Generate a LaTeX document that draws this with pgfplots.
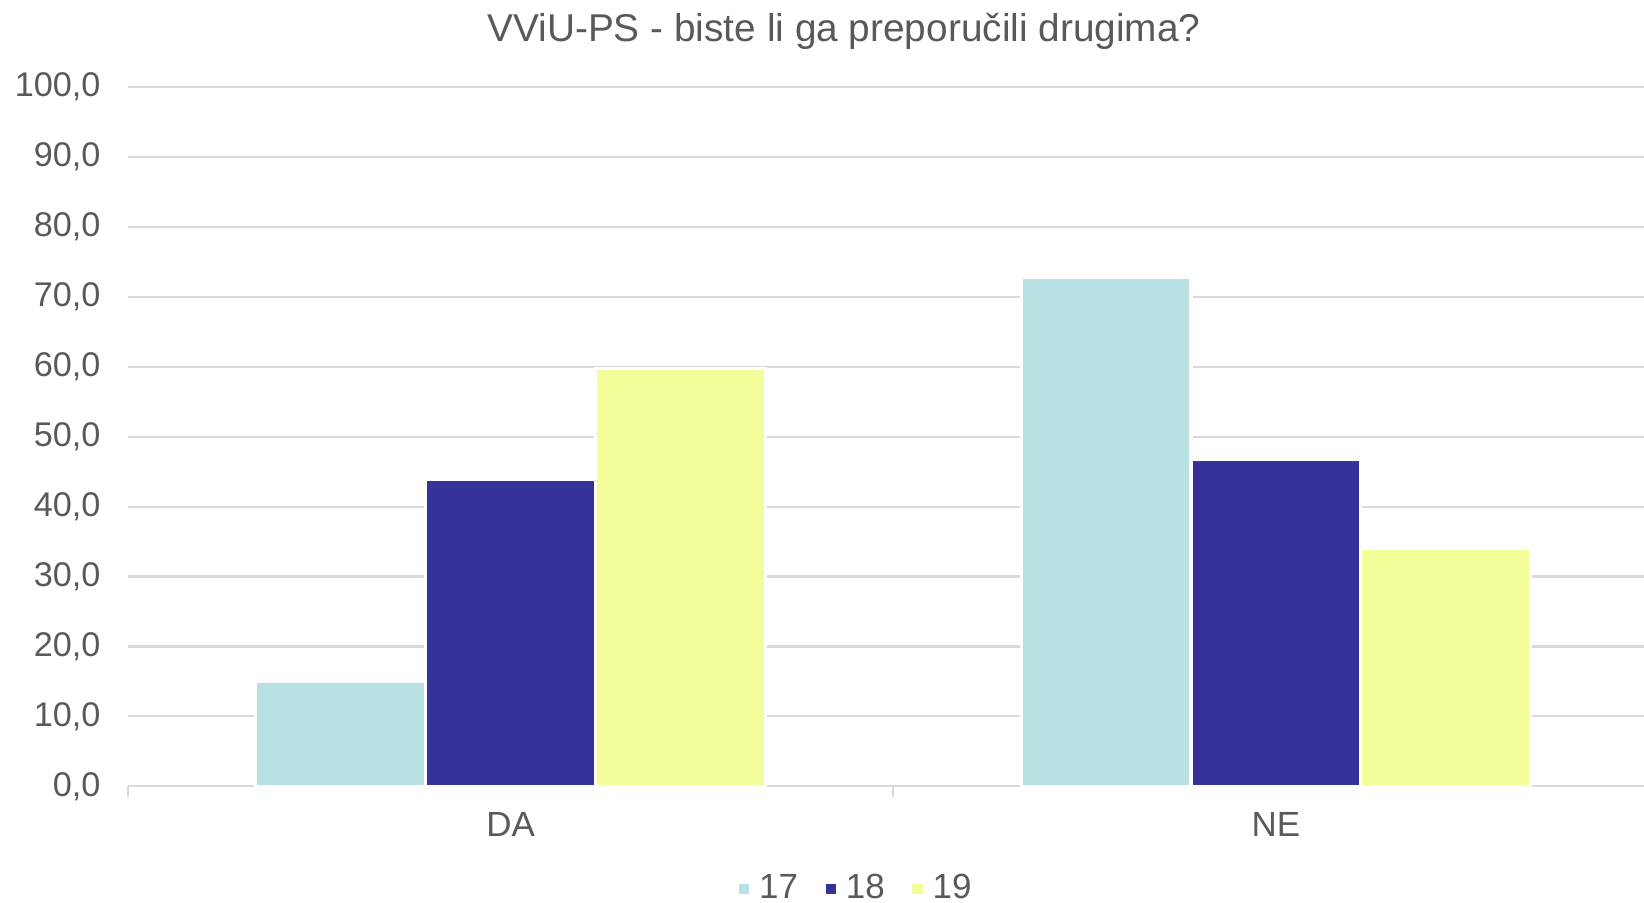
\documentclass[border=0pt]{standalone}
\usepackage{pgfplots}
\pgfplotsset{compat=1.18}
\usepackage{fontspec}
\setmainfont{Liberation Sans}

\definecolor{c17}{RGB}{185,224,227}
\definecolor{c18}{RGB}{53,51,153}
\definecolor{c19}{RGB}{243,254,154}
\definecolor{txt}{RGB}{89,89,89}
\definecolor{gridc}{RGB}{217,217,217}

\begin{document}
\begin{tikzpicture}
\begin{axis}[
    scale only axis,
    width=433.8pt,
    height=200.1pt,
    ybar=0pt,
    bar width=48.6pt,
    xmin=-0.5, xmax=1.481,
    ymin=0, ymax=100,
    ytick={0,10,...,100},
    xtick={0,1},
    xticklabels={DA,NE},
    minor xtick={-0.5,0.5,1.5},
    major tick length=0pt,
    minor tick length=3pt,
    tick align=outside,
    minor x tick style={draw=gridc, line width=0.6pt},
    axis x line*=bottom,
    axis y line*=left,
    y axis line style={draw=none},
    x axis line style={draw=gridc, line width=0.6pt, -},
    ymajorgrids,
    grid style={draw=gridc, line width=0.6pt},
    font=\fontsize{10}{12}\selectfont,
    /pgf/number format/assume math mode=true,
    yticklabel={\pgfmathprintnumber[fixed,fixed zerofill,precision=1,use comma]{\tick}},
    yticklabel style={text=txt, xshift=-4.3pt, font=\fontsize{9.8}{12}\selectfont},
    xticklabel style={text=txt, yshift=-4pt},
    title={VViU-PS - biste li ga preporučili drugima?},
    title style={text=txt, at={(axis description cs:0.4723,1)}, anchor=center, yshift=9.9pt, font=\fontsize{11.1}{13}\selectfont},
    legend columns=-1,
    legend style={draw=none, at={(axis description cs:0.481,0)}, anchor=center, yshift=-29.4pt, text=txt,
        /tikz/every even column/.append style={column sep=5pt}},
    legend image code/.code={\fill[#1] (0pt,-1.9pt) rectangle (3.8pt,1.9pt);},
    every axis plot/.append style={draw=white, line width=0.9pt},
    clip=false,
]
\addplot[fill=c17] coordinates {(0,15.0) (1,72.8)};
\addlegendentry{17}
\addplot[fill=c18] coordinates {(0,43.9) (1,46.8)};
\addlegendentry{18}
\addplot[fill=c19] coordinates {(0,59.7) (1,34.0)};
\addlegendentry{19}
\end{axis}
\pgfresetboundingbox
\path[use as bounding box] ([xshift=-36.6pt,yshift=-33.3pt]current axis.south west) rectangle ([yshift=24.9pt]current axis.north east);
\end{tikzpicture}
\end{document}
